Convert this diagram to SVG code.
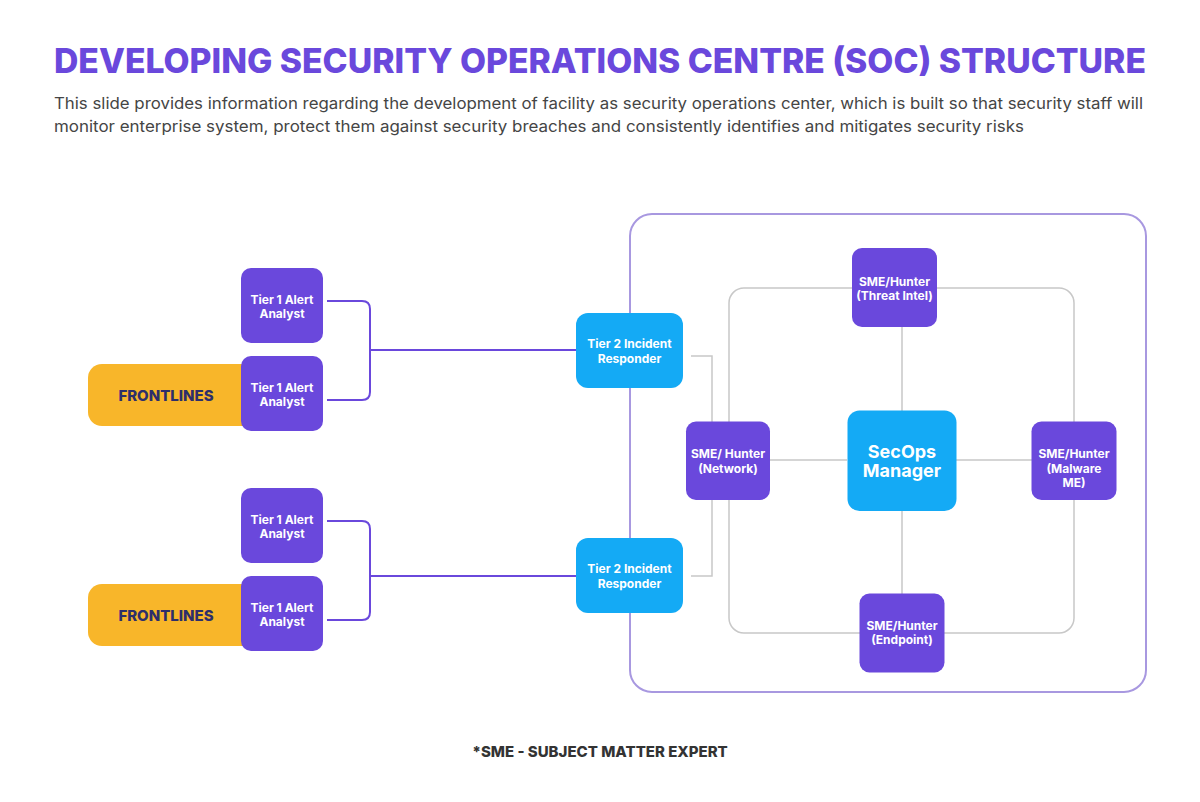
<svg xmlns="http://www.w3.org/2000/svg" width="1200" height="802" viewBox="0 0 1200 802">
<style>
.title{font-family:Inter,"Liberation Sans",sans-serif;font-weight:800;font-size:34px;fill:#6a48dc}
.sub{font-family:Inter,"Liberation Sans",sans-serif;font-size:16px;fill:#454545}
.pbox{fill:#6a48dc}
.bbox{fill:#14aaf5}
.ybox{fill:#f8b62a}
.lbl{font-family:Inter,"Liberation Sans",sans-serif;font-weight:700;font-size:12px;fill:#ffffff;text-anchor:middle}
.big{font-family:Inter,"Liberation Sans",sans-serif;font-weight:700;font-size:18px;fill:#ffffff;text-anchor:middle}
.front{font-family:Inter,"Liberation Sans",sans-serif;font-weight:800;font-size:15px;fill:#2d2e6b;text-anchor:middle}
.foot{font-family:Inter,"Liberation Sans",sans-serif;font-weight:800;font-size:15px;fill:#333333;text-anchor:middle}
.pl{fill:none;stroke:#6a48dc;stroke-width:2}
.gl{fill:none;stroke:#c8c8c8;stroke-width:1.5}
.outer{fill:none;stroke:#a898e0;stroke-width:2}
</style>
<rect width="1200" height="802" fill="#ffffff"/>
<text class="title" x="54" y="73" textLength="1092" lengthAdjust="spacingAndGlyphs">DEVELOPING SECURITY OPERATIONS CENTRE (SOC) STRUCTURE</text>
<text class="sub" x="54" y="109" textLength="1089" lengthAdjust="spacingAndGlyphs">This slide provides information regarding the development of facility as security operations center, which is built so that security staff will</text>
<text class="sub" x="54" y="132" textLength="970" lengthAdjust="spacingAndGlyphs">monitor enterprise system, protect them against security breaches and consistently identifies and mitigates security risks</text>

<g id="containers">
<rect class="outer" x="630" y="214" width="516" height="478" rx="22"/>
<rect class="gl" x="729" y="288" width="345" height="345" rx="15"/>
</g>

<g id="connectors">
<path class="pl" d="M327 301 H362 Q370 301 370 309 V392 Q370 400 362 400 H327"/>
<path class="pl" d="M370 350 H576"/>
<path class="pl" d="M327 521 H362 Q370 521 370 529 V612 Q370 620 362 620 H327"/>
<path class="pl" d="M370 576 H576"/>
<path class="gl" d="M691 356 H712 V576 H691"/>
<path class="gl" d="M770 460 H847 M956 460 H1032 M902 327 V411 M902 511 V594"/>
</g>

<g id="frontlines-1">
<rect class="ybox" x="88" y="364" width="180" height="62" rx="14"/>
<text class="front" x="166" y="400.5">FRONTLINES</text>
</g>
<g id="frontlines-2">
<rect class="ybox" x="88" y="584" width="180" height="62" rx="14"/>
<text class="front" x="166" y="620.5">FRONTLINES</text>
</g>

<g id="tier1-a">
<rect class="pbox" x="241" y="268" width="82" height="75" rx="10"/>
<text class="lbl" x="282" y="303.5">Tier 1 Alert</text>
<text class="lbl" x="282" y="317.5">Analyst</text>
</g>
<g id="tier1-b">
<rect class="pbox" x="241" y="356" width="82" height="75" rx="10"/>
<text class="lbl" x="282" y="391.5">Tier 1 Alert</text>
<text class="lbl" x="282" y="405.5">Analyst</text>
</g>
<g id="tier1-c">
<rect class="pbox" x="241" y="488" width="82" height="75" rx="10"/>
<text class="lbl" x="282" y="523.5">Tier 1 Alert</text>
<text class="lbl" x="282" y="537.5">Analyst</text>
</g>
<g id="tier1-d">
<rect class="pbox" x="241" y="576" width="82" height="75" rx="10"/>
<text class="lbl" x="282" y="611.5">Tier 1 Alert</text>
<text class="lbl" x="282" y="625.5">Analyst</text>
</g>

<g id="tier2-a">
<rect class="bbox" x="576" y="313" width="107" height="75" rx="12"/>
<text class="lbl" x="629.5" y="348">Tier 2 Incident</text>
<text class="lbl" x="629.5" y="362.5">Responder</text>
</g>
<g id="tier2-b">
<rect class="bbox" x="576" y="538" width="107" height="75" rx="12"/>
<text class="lbl" x="629.5" y="573">Tier 2 Incident</text>
<text class="lbl" x="629.5" y="587.5">Responder</text>
</g>

<g id="sme-threat">
<rect class="pbox" x="852" y="248" width="85" height="79" rx="10"/>
<text class="lbl" x="894.5" y="286">SME/Hunter</text>
<text class="lbl" x="894.5" y="299.5">(Threat Intel)</text>
</g>
<g id="sme-network">
<rect class="pbox" x="686" y="421.5" width="84" height="78.5" rx="10"/>
<text class="lbl" x="728" y="457.7">SME/ Hunter</text>
<text class="lbl" x="728" y="472.5">(Network)</text>
</g>
<g id="secops">
<rect class="bbox" x="847.5" y="410.5" width="109" height="100.5" rx="12"/>
<text class="big" x="902" y="458">SecOps</text>
<text class="big" x="902" y="477">Manager</text>
</g>
<g id="sme-malware">
<rect class="pbox" x="1031.5" y="421.5" width="85" height="78.5" rx="10"/>
<text class="lbl" x="1074" y="458.4">SME/Hunter</text>
<text class="lbl" x="1074" y="472.7">(Malware</text>
<text class="lbl" x="1074" y="486.7">ME)</text>
</g>
<g id="sme-endpoint">
<rect class="pbox" x="859.5" y="593.5" width="85" height="79" rx="10"/>
<text class="lbl" x="902" y="630.4">SME/Hunter</text>
<text class="lbl" x="902" y="644.4">(Endpoint)</text>
</g>

<text class="foot" x="600" y="756.5">*SME - SUBJECT MATTER EXPERT</text>
</svg>
